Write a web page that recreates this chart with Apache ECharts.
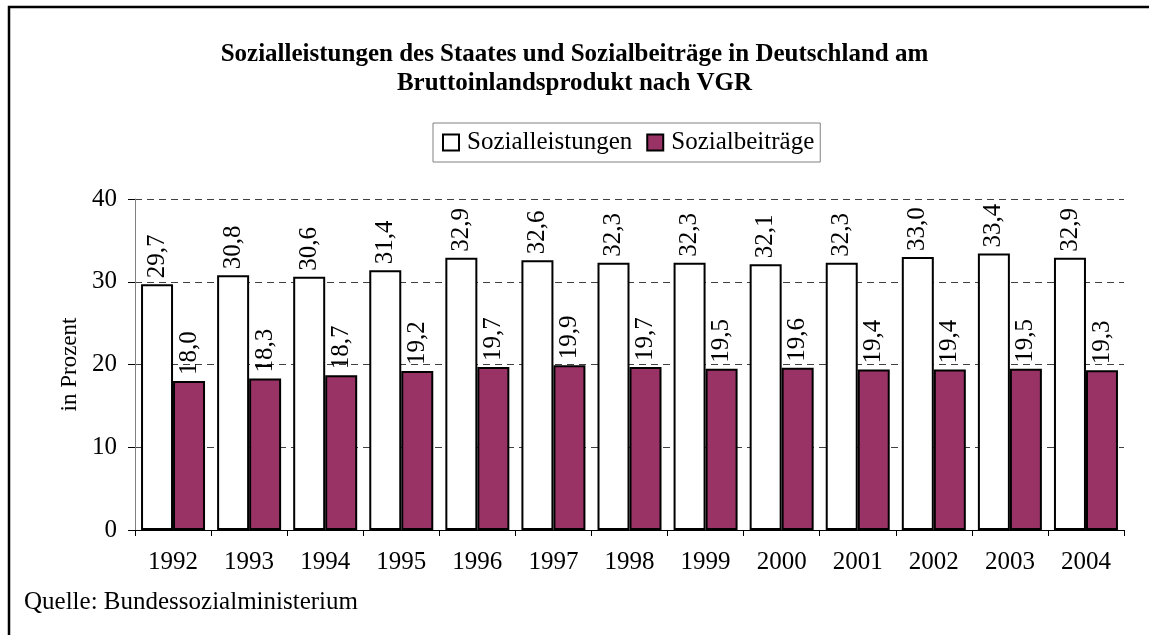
<!DOCTYPE html>
<html>
<head>
<meta charset="utf-8">
<script src="https://cdn.jsdelivr.net/npm/echarts@6/dist/echarts.min.js"></script>
<style>
html,body{margin:0;padding:0;background:#fff;}
#chart{width:1149px;height:635px;}
</style>
</head>
<body>
<div id="chart"></div>
<script>
const years = ['1992','1993','1994','1995','1996','1997','1998','1999','2000','2001','2002','2003','2004'];
const sozialleistungen = [29.7, 30.8, 30.6, 31.4, 32.9, 32.6, 32.3, 32.3, 32.1, 32.3, 33.0, 33.4, 32.9];
const sozialbeitraege = [18.0, 18.3, 18.7, 19.2, 19.7, 19.9, 19.7, 19.5, 19.6, 19.4, 19.4, 19.5, 19.3];
const seriesNames = ['Sozialleistungen', 'Sozialbeiträge'];
const yTicks = [0, 10, 20, 30, 40];

const FONT = '"Liberation Serif", "Times New Roman", serif';
const chart = echarts.init(document.getElementById('chart'));
const fmt = p => p.value.toFixed(1).replace('.', ',');
const labelCfg = {
  show: true, position: 'top', rotate: 90, distance: 6,
  align: 'left', verticalAlign: 'middle',
  fontFamily: FONT, fontSize: 25, color: '#000', formatter: fmt
};
chart.setOption({
  backgroundColor: '#fff',
  animation: false,
  title: {
    text: 'Sozialleistungen des Staates und Sozialbeiträge in Deutschland am\nBruttoinlandsprodukt nach VGR',
    left: 'center', top: 35,
    textStyle: { fontFamily: FONT, fontSize: 25, fontWeight: 'bold', color: '#000', lineHeight: 29 }
  },
  legend: {
    data: seriesNames,
    left: 433, top: 123,
    itemWidth: 16, itemHeight: 16, itemGap: 14,
    borderColor: '#808080', borderWidth: 1,
    padding: [7, 6, 7, 9],
    icon: 'rect',
    textStyle: { fontFamily: FONT, fontSize: 25, color: '#000', padding: [0, 0, 0, 3] }
  },
  grid: { left: 135, right: 25, top: 199, bottom: 105 },
  xAxis: {
    type: 'category', data: years,
    axisLine: { lineStyle: { color: '#000', width: 1 } },
    axisTick: { show: true, length: 6, lineStyle: { color: '#000' } },
    axisLabel: { fontFamily: FONT, fontSize: 25, color: '#000', margin: 20 }
  },
  yAxis: {
    type: 'value', min: yTicks[0], max: yTicks[yTicks.length - 1], interval: 10,
    name: 'in Prozent', nameLocation: 'middle', nameGap: 34, nameRotate: 90,
    nameTextStyle: { fontFamily: FONT, fontSize: 23, color: '#000' },
    axisLine: { show: true, lineStyle: { color: '#808080', width: 1 } },
    axisTick: { show: true, length: 7, lineStyle: { color: '#000' } },
    axisLabel: { fontFamily: FONT, fontSize: 25, color: '#000', margin: 18 },
    splitLine: { show: true, lineStyle: { color: '#404040', type: [7, 5], width: 1 } }
  },
  series: [
    {
      name: seriesNames[0], type: 'bar', data: sozialleistungen,
      barWidth: 32, barGap: '0%',
      itemStyle: { color: '#ffffff', borderColor: '#000', borderWidth: 2 },
      label: labelCfg
    },
    {
      name: seriesNames[1], type: 'bar', data: sozialbeitraege,
      barWidth: 32,
      itemStyle: { color: '#993366', borderColor: '#000', borderWidth: 2 },
      label: labelCfg
    }
  ],
  graphic: [
    {
      type: 'polyline',
      shape: { points: [[9, 640], [9, 7], [1155, 7]] },
      style: { stroke: '#000', lineWidth: 2.5, fill: null }
    },
    {
      type: 'text', left: 24, top: 590,
      style: { text: 'Quelle: Bundessozialministerium', font: '25px ' + FONT, fill: '#000' }
    }
  ]
});
</script>
</body>
</html>
